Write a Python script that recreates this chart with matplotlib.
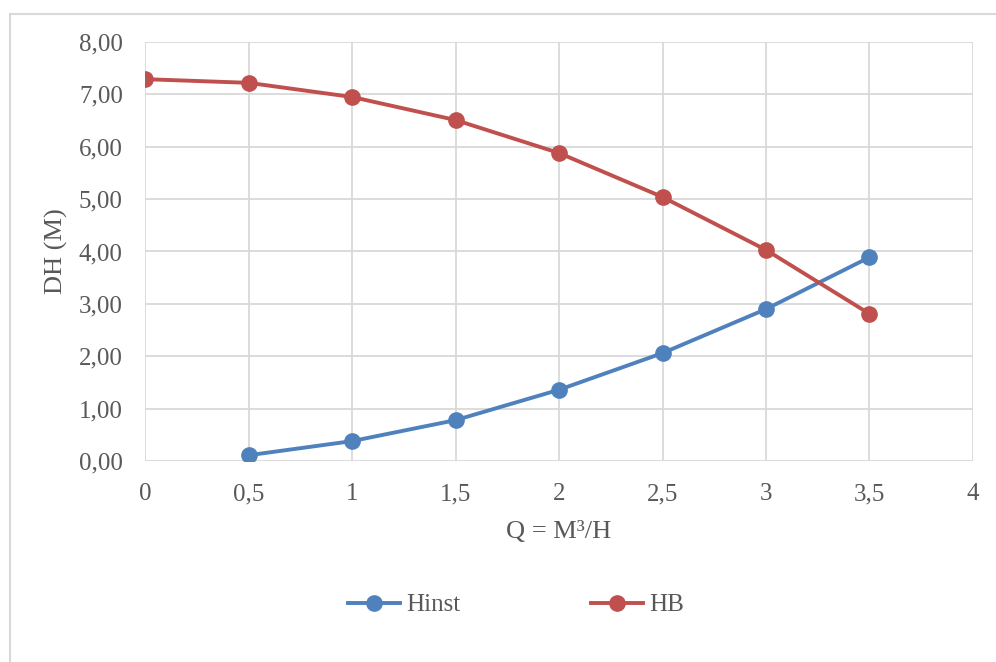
import matplotlib
matplotlib.use('Agg')
from matplotlib import pyplot as plt
from matplotlib.ticker import FuncFormatter

# Flow rate (m3/h) and head (m)
q_hinst = [0.5, 1, 1.5, 2, 2.5, 3, 3.5]
hinst = [0.11, 0.38, 0.78, 1.36, 2.06, 2.90, 3.89]
q_hb = [0, 0.5, 1, 1.5, 2, 2.5, 3, 3.5]
hb = [7.29, 7.22, 6.95, 6.51, 5.88, 5.04, 4.03, 2.81]

BLUE = '#4F81BD'
RED = '#C0504D'
GREY = '#595959'
GRID = '#D9D9D9'

plt.rcParams['font.family'] = ['Liberation Serif', 'DejaVu Serif']

fig = plt.figure(figsize=(9.96, 6.62), dpi=100)
ax = fig.add_axes([0.1456, 0.3036, 0.8313, 0.633])

ax.plot(q_hinst, hinst, color=BLUE, lw=2.8, marker='o', ms=11, label='Hinst', zorder=3)
ax.plot(q_hb, hb, color=RED, lw=2.8, marker='o', ms=11, label='HB', zorder=3)

ax.set_xlim(0, 4)
ax.set_ylim(0, 8)
ax.set_xticks([0, 0.5, 1, 1.5, 2, 2.5, 3, 3.5, 4])
ax.set_yticks(range(0, 9))
ax.xaxis.set_major_formatter(FuncFormatter(lambda v, p: ('%g' % v).replace('.', ',')))
ax.yaxis.set_major_formatter(FuncFormatter(lambda v, p: ('%.2f' % v).replace('.', ',')))
ax.tick_params(length=0, labelsize=18, colors=GREY, pad=16)
ax.tick_params(axis='y', pad=16)
ax.grid(True, color=GRID, lw=1.3)
for s in ax.spines.values():
    s.set_visible(False)
ax.set_axisbelow(True)

ax.set_xlabel('Q = M³/H', fontsize=19, color=GREY, labelpad=11)
ax.set_ylabel('DH (M)', fontsize=19, color=GREY, labelpad=8)

fig.legend(loc='center', bbox_to_anchor=(0.518, 0.086), ncol=2, frameon=False,
           fontsize=18, labelcolor=GREY, handlelength=2.1, handletextpad=0.25,
           columnspacing=5.2)

# chart frame
fig.add_artist(plt.Line2D([0.0105, 0.0105], [0, 0.979], color=GRID, lw=1.5))
fig.add_artist(plt.Line2D([0.0105, 1], [0.979, 0.979], color=GRID, lw=1.5))

fig.savefig('out.png', dpi=100)
